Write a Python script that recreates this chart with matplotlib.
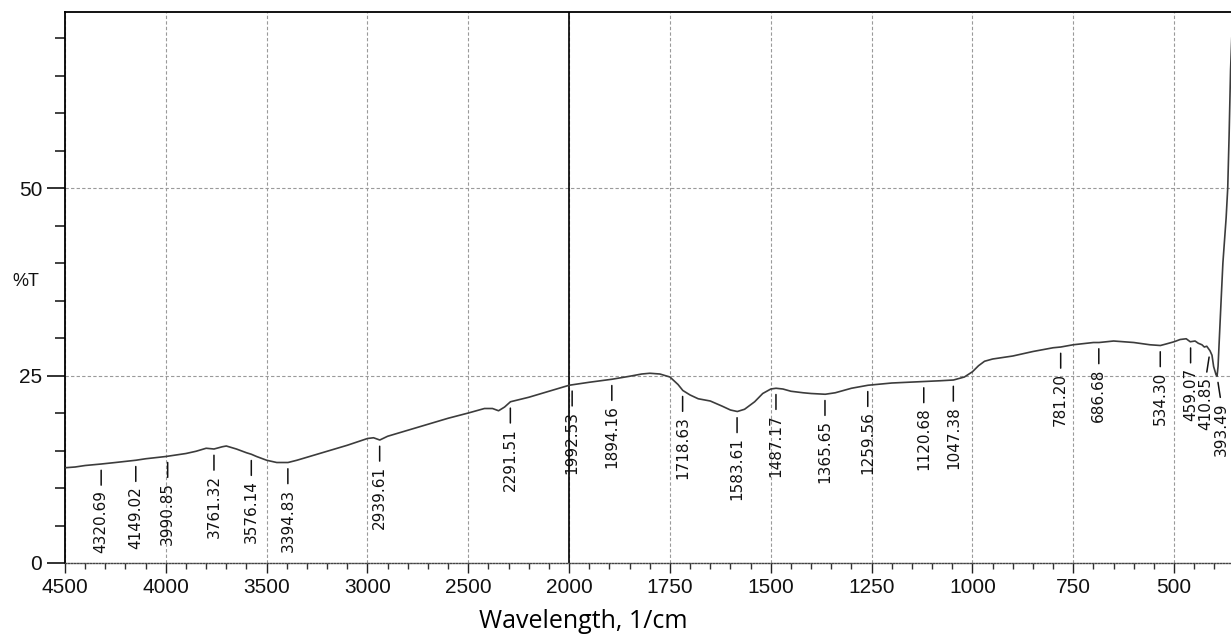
import numpy as np
import matplotlib
matplotlib.use("Agg")
import matplotlib.pyplot as plt
from matplotlib.ticker import FixedLocator

plt.rcParams["font.family"] = ["Liberation Sans", "DejaVu Sans"]

# IR transmittance spectrum (wavenumber, %T)
wavenumber = [4500, 4450, 4400, 4320, 4250, 4149, 4100, 4000, 3950, 3900,
              3850, 3800, 3761, 3720, 3700, 3650, 3600, 3576, 3550, 3500,
              3450, 3394, 3350, 3300, 3200, 3100, 3000, 2970, 2939, 2900,
              2800, 2700, 2600, 2500, 2420, 2380, 2350, 2320, 2291, 2200,
              2100, 2000, 1950, 1894, 1850, 1820, 1800, 1775, 1750, 1730,
              1718, 1700, 1680, 1650, 1620, 1600, 1583, 1565, 1540, 1520,
              1500, 1487, 1470, 1450, 1420, 1400, 1365, 1340, 1300, 1259,
              1200, 1120, 1080, 1047, 1020, 1000, 985, 970, 950, 900,
              850, 800, 781, 750, 700, 686, 650, 600, 560, 534,
              520, 500, 485, 470, 460, 448, 440, 431, 425, 419,
              411, 406, 402, 396, 393.5, 391, 388, 383, 379, 371,
              367, 363.6, 360, 357]
transmittance = [12.7, 12.8, 13.0, 13.2, 13.4, 13.7, 13.9, 14.2, 14.4, 14.6,
                 14.9, 15.3, 15.2, 15.5, 15.6, 15.2, 14.7, 14.5, 14.2, 13.7,
                 13.4, 13.4, 13.7, 14.1, 14.9, 15.7, 16.6, 16.7, 16.4, 16.9,
                 17.7, 18.5, 19.3, 20.0, 20.6, 20.6, 20.3, 20.8, 21.5, 22.1,
                 22.9, 23.7, 24.1, 24.5, 24.9, 25.2, 25.3, 25.2, 24.8, 23.8,
                 23.0, 22.4, 21.9, 21.6, 20.9, 20.4, 20.2, 20.5, 21.5, 22.6,
                 23.2, 23.3, 23.2, 22.9, 22.7, 22.6, 22.5, 22.7, 23.3, 23.7,
                 24.0, 24.2, 24.3, 24.4, 24.8, 25.5, 26.3, 26.9, 27.2, 27.6,
                 28.2, 28.7, 28.8, 29.1, 29.4, 29.4, 29.6, 29.4, 29.1, 29.0,
                 29.2, 29.5, 29.8, 29.9, 29.5, 29.6, 29.3, 29.1, 28.8, 28.9,
                 28.3, 27.7, 26.2, 25.1, 24.9, 26.2, 29.7, 35.5, 40.0, 46.0,
                 50.0, 57.0, 65.7, 70.0]

peaks = ["4320.69", "4149.02", "3990.85", "3761.32", "3576.14", "3394.83",
         "2939.61", "2291.51", "1992.53", "1894.16", "1718.63", "1583.61",
         "1487.17", "1365.65", "1259.56", "1120.68", "1047.38", "781.20",
         "686.68", "534.30", "459.07", "410.85", "393.49"]

x_major = [4500, 4000, 3500, 3000, 2500, 2000, 1750, 1500, 1250, 1000, 750, 500]
y_major = [0, 25, 50]


# two linear segments: 500 per division above 2000, 250 per division below
def fwd(x):
    x = np.asarray(x, dtype=float)
    return np.where(x >= 2000, (x - 2000) / 500, (x - 2000) / 250)


def inv(u):
    u = np.asarray(u, dtype=float)
    return np.where(u >= 0, 2000 + 500 * u, 2000 + 250 * u)


W, H = 1231, 637
fig = plt.figure(figsize=(W / 100, H / 100), dpi=100)
ax = fig.add_axes([65 / W, (H - 563) / H, (W - 65) / W, (563 - 12) / H])

ax.set_xscale("function", functions=(fwd, inv))
ax.set_xlim(4500, 358.9)
ax.set_ylim(0, 73.47)

ax.plot(wavenumber, transmittance, color="#3c3c3c", lw=1.2, zorder=3)

# ticks
ax.xaxis.set_major_locator(FixedLocator(x_major))
minor_x = list(range(4500, 2000, -100)) + list(range(2000, 350, -50))
ax.xaxis.set_minor_locator(FixedLocator(minor_x))
ax.yaxis.set_major_locator(FixedLocator(y_major))
ax.yaxis.set_minor_locator(FixedLocator(list(range(0, 75, 5))))
ax.set_xticklabels([str(v) for v in x_major])
ax.set_yticklabels([str(v) for v in y_major])

ax.tick_params(axis="both", which="major", labelsize=15, labelcolor="#111111")
ax.tick_params(axis="x", which="major", direction="out", length=7.5, width=1.0,
               color="#222222", pad=3.5)
ax.tick_params(axis="x", which="minor", direction="out", length=4.5, width=1.0,
               color="#333333")
ax.tick_params(axis="y", which="major", direction="out", length=13, width=1.3,
               color="#222222", pad=3.5)
ax.tick_params(axis="y", which="minor", direction="out", length=7, width=1.3,
               color="#333333")

# frame
ax.spines["right"].set_visible(False)
ax.spines["top"].set_linewidth(1.3)
ax.spines["left"].set_linewidth(1.3)
ax.spines["bottom"].set_linestyle((0, (1, 1.2)))
ax.spines["bottom"].set_color("#444444")
ax.spines["bottom"].set_linewidth(1.0)

ax.grid(True, which="major", ls=(0, (3, 2)), color="#9a9a9a", lw=0.8, zorder=1)
ax.axvline(2000, color="black", lw=1.2, zorder=2)

# peak labels hanging below the trace
xs = np.array(wavenumber)[::-1]
ys = np.array(transmittance)[::-1]
shift = {"410.85": -4, "393.49": 4}
for p in peaks:
    wn = float(p)
    yc = np.interp(wn, xs, ys)
    ax.annotate(p, xy=(wn, yc), xycoords="data",
                xytext=(shift.get(p, 0), -26), textcoords="offset pixels",
                rotation=90, ha="center", va="top",
                fontsize=11, family="DejaVu Sans", color="#111111",
                arrowprops=dict(arrowstyle="-", color="#111111", lw=1.1,
                                relpos=(0.5, 1.0), shrinkA=1.5, shrinkB=4.5),
                zorder=4)

fig.text(12 / W, 1 - 282 / H, "%T", ha="left", va="center",
         family="Liberation Sans", fontsize=13, color="#111111")
fig.text(583 / W, 9 / H, "Wavelength, 1/cm", ha="center", va="baseline",
         family="Open Sans", fontsize=18, color="black")

fig.savefig("out.png", dpi=100)
